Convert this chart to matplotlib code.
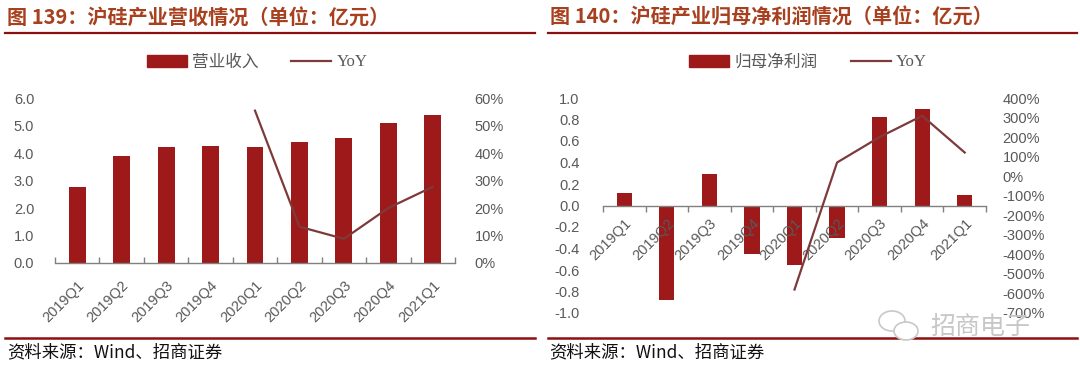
import matplotlib
matplotlib.use("Agg")
import matplotlib.pyplot as plt
import numpy as np
from matplotlib.lines import Line2D
from matplotlib.patches import Patch, Ellipse

plt.rcParams['font.family'] = ['Liberation Sans', 'Noto Sans CJK SC', 'DejaVu Sans']

quarters = ["2019Q1", "2019Q2", "2019Q3", "2019Q4", "2020Q1", "2020Q2", "2020Q3", "2020Q4", "2021Q1"]
revenue = [2.76, 3.89, 4.22, 4.25, 4.22, 4.40, 4.55, 5.09, 5.38]
revenue_yoy = [np.nan, np.nan, np.nan, np.nan, 55.4, 13.2, 8.8, 20.0, 27.7]
net_profit = [0.12, -0.88, 0.29, -0.45, -0.55, -0.30, 0.82, 0.90, 0.10]
profit_yoy = [np.nan, np.nan, np.nan, np.nan, -580, 70, 200, 309, 121]

left_ticks = [0.0, 1.0, 2.0, 3.0, 4.0, 5.0, 6.0]
left_pct_ticks = [0, 10, 20, 30, 40, 50, 60]
right_ticks = [-1.0, -0.8, -0.6, -0.4, -0.2, 0.0, 0.2, 0.4, 0.6, 0.8, 1.0]
right_pct_ticks = [-700, -600, -500, -400, -300, -200, -100, 0, 100, 200, 300, 400]

BAR = '#9E1A1A'
LINE = '#7E3A3A'
GRAY = '#595959'
TITLE = '#A8401F'
RULE = '#8B1010'
W, H = 1080, 375

fig = plt.figure(figsize=(10.8, 3.75), dpi=100)

def fx(px):
    return px / W

def fy(py):
    return 1 - py / H

x = np.arange(len(quarters))

def style_axes(ax, ax2, minor_dir):
    ax.set_axisbelow(False)
    for s in ['top', 'right', 'left']:
        ax.spines[s].set_visible(False)
    for s in ['top', 'right', 'left', 'bottom']:
        ax2.spines[s].set_visible(False)
    ax.spines['bottom'].set_color('#808080')
    ax.spines['bottom'].set_linewidth(1.0)
    ax.tick_params(axis='y', length=0, labelsize=10.5, labelcolor=GRAY)
    ax2.tick_params(axis='y', length=0, labelsize=10.5, labelcolor=GRAY)
    ax.set_xticks(x)
    ax.set_xticks(np.arange(-0.5, len(quarters)), minor=True)
    ax.tick_params(axis='x', which='major', length=0, labelsize=10.5, labelcolor=GRAY)
    ax.tick_params(axis='x', which='minor', length=4, direction=minor_dir, color='#808080', width=1)
    ax.set_xticklabels(quarters, rotation=45, ha='right', rotation_mode='anchor')
    ax.set_xlim(-0.5, len(quarters) - 0.5)
    ax.set_facecolor('none')
    ax2.tick_params(axis='x', which='both', bottom=False, top=False, labelbottom=False, labeltop=False)

# ---------------- Left panel ----------------
axL = fig.add_axes([fx(55), fy(263), fx(400), (263 - 98) / H])
axL2 = axL.twinx()
axL.bar(x, revenue, width=0.38, color=BAR, zorder=2)
axL2.plot(x, revenue_yoy, color=LINE, lw=1.6)
axL.set_ylim(0, 6)
axL2.set_ylim(0, 60)
axL.set_yticks(left_ticks)
axL.set_yticklabels([f"{v:.1f}" for v in left_ticks])
axL2.set_yticks(left_pct_ticks)
axL2.set_yticklabels([f"{v}%" for v in left_pct_ticks])
style_axes(axL, axL2, 'in')
axL.tick_params(axis='y', pad=15)
axL2.tick_params(axis='y', pad=14)
axL.tick_params(axis='x', which='major', pad=11)

# ---------------- Right panel ----------------
axR = fig.add_axes([fx(603), fy(313), fx(383), (313 - 98) / H])
axR.spines['bottom'].set_position(('data', 0))
axR2 = axR.twinx()
axR.bar(x, net_profit, width=0.36, color=BAR, zorder=2)
axR2.plot(x, profit_yoy, color=LINE, lw=1.6)
axR.set_ylim(-1.0, 1.0)
axR2.set_ylim(-700, 400)
axR.set_yticks(right_ticks)
axR.set_yticklabels([f"{v:.1f}" for v in right_ticks])
axR2.set_yticks(right_pct_ticks)
axR2.set_yticklabels([f"{v}%" for v in right_pct_ticks])
style_axes(axR, axR2, 'out')
axR.tick_params(axis='y', pad=17)
axR2.tick_params(axis='y', pad=12)
axR.tick_params(axis='x', which='major', pad=8)

# ---------------- Legends ----------------
def add_legend(label, cx):
    handles = [Patch(facecolor=BAR, edgecolor=BAR, label=label),
               Line2D([0], [0], color=LINE, lw=1.6, label='YoY')]
    leg = fig.legend(handles=handles, loc='center', bbox_to_anchor=(fx(cx), fy(62)),
                     ncol=2, frameon=False, handlelength=2.4, handleheight=0.75,
                     handletextpad=0.3, columnspacing=2.0,
                     prop={'family': ['Noto Sans CJK SC', 'DejaVu Sans'], 'size': 12})
    for t in leg.get_texts():
        t.set_color(GRAY)
    leg.get_texts()[1].set_family(['Liberation Serif'])
    return leg

add_legend('营业收入', 257)
add_legend('归母净利润', 808)

# ---------------- Titles, rules, footers ----------------
cjk = ['Noto Sans CJK SC', 'DejaVu Sans']
fig.text(fx(7), fy(17), '图 139：沪硅产业营收情况（单位：亿元）', fontsize=14.5, fontweight='bold',
         color=TITLE, va='center', ha='left', family=cjk)
fig.text(fx(550), fy(17), '图 140：沪硅产业归母净利润情况（单位：亿元）', fontsize=14.5, fontweight='bold',
         color=TITLE, va='center', ha='left', family=cjk)

for (x0, x1) in [(5, 535), (548, 1077)]:
    fig.add_artist(Line2D([fx(x0), fx(x1)], [fy(33), fy(33)], color=RULE, lw=1.6))
    fig.add_artist(Line2D([fx(x0), fx(x1)], [fy(338), fy(338)], color=RULE, lw=1.8))

fig.text(fx(7), fy(352), '资料来源：Wind、招商证券', fontsize=12.5, color='#111111',
         va='center', ha='left', family=cjk)
fig.text(fx(549), fy(352), '资料来源：Wind、招商证券', fontsize=12.5, color='#111111',
         va='center', ha='left', family=cjk)

# watermark (WeChat-like icon + text)
for (cx, cy, w, h) in [(892, 321, 26, 20), (906, 331, 24, 18)]:
    fig.add_artist(Ellipse((fx(cx), fy(cy)), fx(w), h / H, fill=True, facecolor='white',
                           edgecolor='#C8C8C8', lw=1.2, zorder=9))
fig.text(fx(930), fy(327), '招商电子', fontsize=18, color='#C4C4C4', alpha=0.95,
         va='center', ha='left', family=cjk, zorder=10)

fig.savefig('out.png', dpi=100)
